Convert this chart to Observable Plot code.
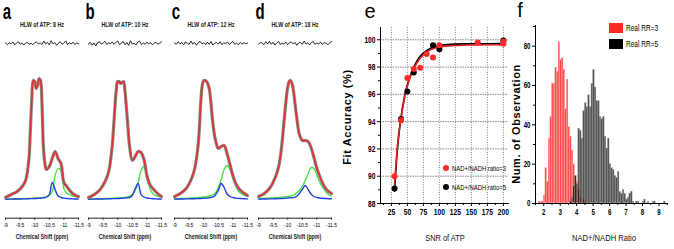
<!DOCTYPE html>
<html><head><meta charset="utf-8">
<script src="https://cdn.jsdelivr.net/npm/d3@7"></script>
<script src="https://cdn.jsdelivr.net/npm/@observablehq/plot@0.6"></script>
<style>
body{margin:0;background:#fff;}
#root{position:relative;width:674px;height:249px;overflow:hidden;background:#fff;font-family:"Liberation Sans",Arial,sans-serif;}
.t{position:absolute;white-space:nowrap;line-height:1;color:#000;}
</style></head>
<body><div id="root"></div>
<script>
// ---------- spectra data (panels a-d) ----------
const ppmGrid = [-9.0,-9.2,-9.4,-9.6,-9.7,-9.8,-9.85,-9.9,-9.95,-10.0,-10.05,-10.1,-10.15,-10.2,-10.25,-10.3,-10.35,-10.4,-10.5,-10.6,-10.7,-10.8,-10.9,-11.0,-11.1,-11.2,-11.3,-11.4,-11.5];
const hlwLabels = ["HLW of ATP: 8 Hz","HLW of ATP: 10 Hz","HLW of ATP: 12 Hz","HLW of ATP: 18 Hz"];
const panelLetters = ["a","b","c","d"];
const fitA   = [2,5,8,14,20,40,68,100,119,118,111,114,121,119,95,52,36,30,33,41,48,41,36,17,13,9,6,4,3];
const greenA = [0.4,0.5,0.6,0.8,0.9,1,1.1,1.2,1.3,1.4,1.5,1.6,1.7,1.8,1.9,2,2.2,2.5,4,8,24,31,29,11,6,5,3.5,3,2.5];
const blueA  = [0.3,0.4,0.5,0.6,0.7,0.8,0.85,0.9,0.95,1,1.05,1.1,1.2,1.3,1.4,1.6,1.9,2.5,5,17,10,3.5,2,1.4,1,0.8,0.6,0.5,0.4];
const fitB   = [2,5,10,20,29,50,68,90,109,118,118,116,117,118,108,91,73,55,39,43,48,47,40,24,15,11,8,5,3];
const greenB = [0.5,0.6,0.8,1,1.1,1.2,1.3,1.4,1.5,1.6,1.7,1.8,1.9,2,2.2,2.4,2.7,3,5,9,17,29,33,25,11,6,4,3,2];
const blueB  = [0.3,0.4,0.5,0.6,0.7,0.8,0.85,0.9,0.95,1,1.05,1.1,1.2,1.3,1.4,1.6,1.8,2,4,11,16,5,2.5,1.5,1.1,0.8,0.6,0.5,0.4];
const fitC   = [3,6,11,22,32,52,70,98,114,119,119,118,115,109,96,80,68,60,51,53,54,46,35,24,16,11,8,6,4];
const greenC = [0.8,1,1.2,1.5,1.7,1.9,2,2.2,2.3,2.5,2.7,3,3.2,3.5,3.9,4.5,5.3,6.5,12,20,30,34,30,21,13,8,5.5,4,3];
const blueC  = [0.4,0.5,0.6,0.7,0.8,0.9,1,1.05,1.1,1.2,1.3,1.4,1.6,1.8,2.1,2.5,3,4.5,9,16,12,5.5,3,2,1.4,1.1,0.9,0.7,0.6];
const fitD   = [3,6,12,24,34,55,70,86,101,112,118,119,116,108,96,84,73,65,59,59,58,52,42,31,23,16,11,8,6];
const greenD = [1,1.2,1.5,1.9,2.1,2.4,2.6,2.8,2.9,3,3.2,3.5,4,4.5,5.4,6.5,7.6,9,13,19,26,32,31,24,17,12,8,5,3.5];
const blueD  = [0.4,0.5,0.6,0.8,0.9,1,1.1,1.2,1.3,1.4,1.6,1.7,1.85,2,2.4,3,4.2,6,10,14,10,5.5,3,2,1.5,1.2,1,0.8,0.7];
const noiseA = [0.2,-0.5,0.4,-0.2,0.8,-0.6,0.1,0.9,-0.4,0.3,-0.8,0.2,0.5,-0.3,0.1,-0.6,0.4,0.7,-0.2,0.3,-0.5,1.2,-0.3,0.6,-0.7,1.4,-0.2,0.5,-0.9,0.3,0.8,-0.4,0.2,1.3,-0.6,0.4,-0.3,0.7,-0.5,0.2,-0.1];
const noiseB = [-0.2,0.6,-0.8,0.3,-1.2,0.4,0.9,-0.3,0.2,1.1,-0.5,0.3,-0.2,0.8,-0.4,0.6,1.3,-0.6,0.2,1.0,-0.7,0.5,-0.9,1.4,-0.3,0.2,-0.8,0.7,1.2,-0.5,0.3,-0.4,0.6,-0.2,0.4,-0.6,0.2,0.5,-0.3,0.1,0.9];
const noiseC = [0.3,-0.4,0.9,-0.2,0.5,-0.7,0.8,0.2,-0.5,1.2,-0.3,0.6,-0.9,0.4,1.1,-0.2,0.3,-0.6,0.7,-0.4,1.0,-0.8,0.2,0.5,-0.3,0.9,-0.6,0.4,-0.2,0.8,-0.5,0.3,1.0,-0.4,0.2,-0.7,0.6,-0.3,0.4,-0.1,0.2];
const noiseD = [-0.3,0.5,0.2,-0.6,0.9,-0.2,1.1,-0.4,0.6,-0.8,0.3,1.0,-0.5,0.2,-0.3,0.7,-0.6,0.4,0.8,-0.2,0.5,-0.9,0.3,0.6,-0.4,1.2,-0.3,0.2,-0.7,0.5,0.9,-0.5,0.3,-0.2,0.7,-0.4,0.5,0.1,-0.6,0.3,1.0];
const ppmTicks = [-9,-9.5,-10,-10.5,-11,-11.5];

// ---------- panel e data ----------
const snrRed   = [30,40,50,60,70,80,90,100,160,200,200];
const accRed   = [90.0,94.1,97.2,97.85,97.95,98.95,98.7,99.6,99.8,99.88,99.7];
const snrBlack = [30,40,50,60,90,100,200];
const accBlack = [89.1,94.2,96.2,97.6,99.6,99.3,99.95];
const fitSnr      = [30,35,40,45,50,60,70,80,90,100,125,150,200];
const fitRedAcc   = [89.4,92.5,94.2,95.6,96.6,97.9,98.65,99.1,99.35,99.48,99.58,99.62,99.63];
const fitBlackAcc = [88.9,92.3,94.3,95.7,96.7,98.0,98.8,99.2,99.45,99.58,99.68,99.7,99.72];
const eXTicks = [25,50,75,100,125,150,175,200];
const eXMinor = [12.5,37.5,62.5,87.5,112.5,137.5,162.5,187.5];
const eYTicks = [88,90,92,94,96,98,100];
const eYMinor = [89,91,93,95,97,99];

// ---------- panel f data ----------
const redBins   = [1.7,1.8,1.9,2.0,2.1,2.2,2.3,2.4,2.5,2.6,2.7,2.8,2.9,3.0,3.1,3.2,3.3,3.4,3.5,3.6,3.7,3.8,3.9,4.0,4.1,4.2,4.3,4.4,4.5];
const redCounts = [1,1,1,4,18,11,33,44,61,61,69,67,82,73,74,68,48,63,39,34,27,20,14,11,7,3,1,2,1];
const blackBins   = [3.6,3.7,3.8,3.9,4.0,4.1,4.2,4.3,4.4,4.5,4.6,4.7,4.8,4.9,5.0,5.1,5.2,5.3,5.4,5.5,5.6,5.7,5.8,5.9,6.0,6.1,6.2,6.3,6.4,6.5,6.6,6.7,6.8,6.9,7.0,7.1,7.2,7.3,7.4,7.6,7.7,8.0,8.1,8.3,8.6,8.7,9.3];
const blackCounts = [1,3,9,14,10,38,37,33,47,51,49,55,49,61,68,59,52,52,44,43,44,34,28,33,20,18,17,14,13,16,6,5,7,5,2,3,5,6,1,1,1,1,2,1,1,1,1];
const fXTicks = [2,3,4,5,6,7,8,9];
const fXMinor = [1.5,2.5,3.5,4.5,5.5,6.5,7.5,8.5,9.5];
const fYTicks = [0,20,40,60,80];
const fYMinor = [10,30,50,70,90];
const binWidth = 0.1;

const root = document.getElementById("root");
const FONT = '"Liberation Sans",Arial,sans-serif';
function place(el, left, top){ el.style.position="absolute"; el.style.left=left+"px"; el.style.top=top+"px"; root.appendChild(el); }
// text centred on (x,y), horizontally condensed by sx
function label(text, x, y, size, sx, extra, anchorLeft){
  const d=document.createElement("div"); d.className="t"; d.textContent=text;
  d.style.left=x+"px"; d.style.top=y+"px"; d.style.fontSize=size+"px";
  if(anchorLeft){ d.style.transformOrigin="0 50%"; d.style.transform=`translate(0,-50%) scaleX(${sx})`; }
  else d.style.transform=`translate(-50%,-50%) scaleX(${sx})`;
  if(extra) Object.assign(d.style, extra);
  root.appendChild(d); return d;
}
// condense the library's tick labels (must be in the DOM to measure)
function condense(svg, s){
  svg.querySelectorAll("text").forEach(t=>{
    const w=t.getComputedTextLength();
    if(w>0){ t.setAttribute("textLength", (w*s).toFixed(2)); t.setAttribute("lengthAdjust","spacingAndGlyphs"); }
  });
}

// ---------- panels a-d ----------
const fits=[fitA,fitB,fitC,fitD], greens=[greenA,greenB,greenC,greenD], blues=[blueA,blueB,blueC,blueD], noises=[noiseA,noiseB,noiseC,noiseD];
const panelX0=[5,88,174,258], panelW=73;
fits.forEach((fit,k)=>{
  const toPts = arr => ppmGrid.map((x,i)=>({x, y:arr[i]}));
  const spec = Plot.plot({
    width: panelW+20, height: 189, marginLeft:10, marginRight:10, marginTop:0, marginBottom:31.3,
    style:{fontFamily:FONT, fontSize:"6px", background:"transparent", overflow:"visible", color:"#000"},
    x:{domain:[-9,-11.5], label:null},
    y:{domain:[0,120], range:[139,19], axis:null},
    marks:[
      Plot.frame({anchor:"bottom", stroke:"#222", strokeWidth:1}),
      Plot.axisX({ticks:ppmTicks, tickSize:2, tickPadding:3, tickFormat:d=>String(d), stroke:"#222"}),
      Plot.line(toPts(greens[k]), {x:"x", y:"y", stroke:"#3ee03e", strokeWidth:1.3, curve:"catmull-rom"}),
      Plot.line(toPts(blues[k]), {x:"x", y:"y", stroke:"#1f3fe0", strokeWidth:1.4, curve:"catmull-rom"}),
      Plot.line(toPts(fit), {x:"x", y:"y", stroke:"#8a8a8a", strokeWidth:3.2, curve:"catmull-rom"}),
      Plot.line(toPts(fit), {x:"x", y:"y", stroke:"#dc3434", strokeWidth:1.6, curve:"catmull-rom"})
    ]
  });
  place(spec, panelX0[k]-10, 60);
  condense(spec, 0.82);
  const nz = Plot.plot({
    width: panelW+20, height: 20, marginLeft:10, marginRight:10, marginTop:0, marginBottom:0,
    style:{background:"transparent", overflow:"visible"},
    x:{domain:[0,noises[k].length-1], axis:null},
    y:{domain:[-5,5], axis:null},
    marks:[Plot.line(noises[k], {x:(d,i)=>i, y:d=>d, stroke:"#111", strokeWidth:0.9})]
  });
  place(nz, panelX0[k]-10, 33);
  const cx = panelX0[k]+panelW/2;
  label(hlwLabels[k], cx, 24, 7, 0.76, {fontWeight:"bold", color:"#222"});
  label("Chemical Shift (ppm)", cx, 237, 7.5, 0.7, {fontWeight:"bold", color:"#222"});
  label(panelLetters[k], panelX0[k]+1.5, 12, 22, 0.68, {fontWeight:"bold"});
});

// ---------- panel e ----------
const eRed = snrRed.map((x,i)=>({x, y:accRed[i]}));
const eBlack = snrBlack.map((x,i)=>({x, y:accBlack[i]}));
const eFitR = fitSnr.map((x,i)=>({x, y:fitRedAcc[i]}));
const eFitB = fitSnr.map((x,i)=>({x, y:fitBlackAcc[i]}));
const pe = Plot.plot({
  width:175, height:249, marginLeft:40, marginRight:7, marginTop:27, marginBottom:46,
  style:{fontFamily:FONT, fontSize:"9.5px", fontWeight:"bold", background:"transparent", overflow:"visible"},
  x:{domain:[8,208], label:null},
  y:{domain:[88,100.9], label:null},
  marks:[
    Plot.gridX({ticks:eXTicks, stroke:"#777", strokeOpacity:0.9, strokeDasharray:"1,1.5"}),
    Plot.gridY({ticks:eYTicks.slice(1), stroke:"#777", strokeOpacity:0.9, strokeDasharray:"1.5,1"}),
    Plot.axisX({ticks:eXTicks, tickSize:3, tickPadding:2, stroke:"#000"}),
    Plot.axisX({ticks:eXMinor, tickSize:2, text:null, stroke:"#000"}),
    Plot.axisY({ticks:eYTicks, tickSize:3, tickPadding:2, stroke:"#000"}),
    Plot.axisY({ticks:eYMinor, tickSize:2, text:null, stroke:"#000"}),
    Plot.frame({anchor:"left", stroke:"#000"}),
    Plot.frame({anchor:"bottom", stroke:"#000"}),
    Plot.line(eFitB, {x:"x", y:"y", stroke:"#000", strokeWidth:1.6, curve:"catmull-rom"}),
    Plot.line(eFitR, {x:"x", y:"y", stroke:"#e02020", strokeWidth:1.6, curve:"catmull-rom"}),
    Plot.dot(eBlack, {x:"x", y:"y", r:3, fill:"#000"}),
    Plot.dot(eRed, {x:"x", y:"y", r:3, fill:"#ff2a2a"})
  ]
});
place(pe, 340, 0);
condense(pe, 0.7);
label("e", 370, 11, 20, 1);
label("Fit Accuracy (%)", 347, 117, 11, 1, {fontWeight:"bold", letterSpacing:"0.6px", transform:"translate(-50%,-50%) rotate(-90deg)"});
label("SNR of ATP", 445, 238, 9.5, 0.78, {color:"#111"});
function dotLegend(color, x, y, text){
  const d=document.createElement("div"); d.style.width="6px"; d.style.height="6px"; d.style.borderRadius="50%"; d.style.background=color;
  place(d, x-3, y-3);
  label(text, x+6, y, 7, 0.84, null, true);
}
dotLegend("#ff2a2a", 446, 168, "NAD+/NADH ratio=3");
dotLegend("#000", 446, 187, "NAD+/NADH ratio=5");

// ---------- panel f ----------
const fRed = redBins.map((x,i)=>({x1:x, x2:x+binWidth, y:redCounts[i]}));
const fBlack = blackBins.map((x,i)=>({x1:x, x2:x+binWidth, y:blackCounts[i]}));
const pf = Plot.plot({
  width:174, height:249, marginLeft:35, marginRight:7.3, marginTop:25, marginBottom:46,
  style:{fontFamily:FONT, fontSize:"8.5px", fontWeight:"bold", background:"transparent", overflow:"visible"},
  x:{domain:[1.5,9.5], label:null},
  y:{domain:[0,90.5], label:null},
  marks:[
    Plot.rectY(fRed, {x1:"x1", x2:"x2", y:"y", fill:"#ff2a2a", fillOpacity:0.85, stroke:"#ffb8b8", strokeWidth:0.3}),
    Plot.rectY(fBlack, {x1:"x1", x2:"x2", y:"y", fill:"#000", fillOpacity:0.68, stroke:"#aaa", strokeWidth:0.3}),
    Plot.axisX({ticks:fXTicks, tickSize:3, tickPadding:2, stroke:"#000"}),
    Plot.axisX({ticks:fXMinor, tickSize:2, text:null, stroke:"#000"}),
    Plot.axisY({ticks:fYTicks, tickSize:3, tickPadding:2, stroke:"#000"}),
    Plot.axisY({ticks:fYMinor, tickSize:2, text:null, stroke:"#000"}),
    Plot.frame({anchor:"left", stroke:"#000"}),
    Plot.frame({anchor:"bottom", stroke:"#000"})
  ]
});
place(pf, 500, 0);
condense(pf, 0.72);
label("f", 520, 10, 20, 1);
label("Num. of Observation", 516, 124, 11, 1, {fontWeight:"bold", letterSpacing:"0.6px", transform:"translate(-50%,-50%) rotate(-90deg)"});
label("NAD+/NADH Ratio", 604, 238, 9.5, 0.8, {color:"#111"});
function boxLegend(color, x, y, text){
  const d=document.createElement("div"); d.style.width="14px"; d.style.height="10px"; d.style.background=color;
  place(d, x, y-5);
  label(text, x+17, y, 8.5, 0.77, null, true);
}
boxLegend("#ff2a20", 609, 28, "Real RR=3");
boxLegend("#000", 609, 44, "Real RR=5");
</script></body></html>
